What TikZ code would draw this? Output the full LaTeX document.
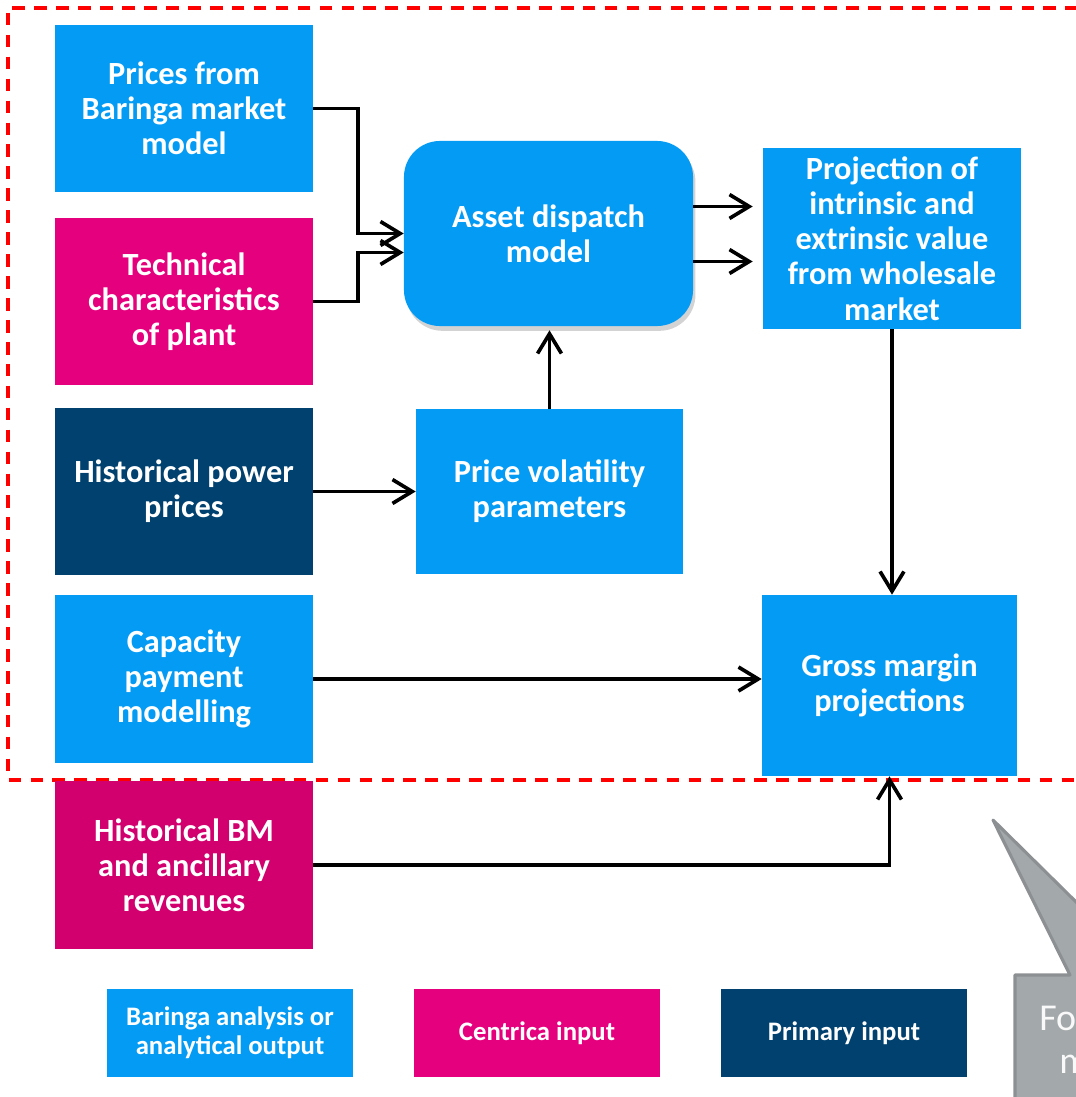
\documentclass[tikz,border=0pt]{standalone}
\usepackage{fontspec}
\setmainfont{Carlito}
\usetikzlibrary{arrows.meta,positioning,shadows}
\definecolor{baringablue}{HTML}{049BF5}
\definecolor{centricapink}{HTML}{E5007D}
\definecolor{bmpink}{HTML}{D1006E}
\definecolor{primarynavy}{HTML}{00416F}
\definecolor{calloutgray}{HTML}{A3A8AB}
\definecolor{calloutedge}{HTML}{8D9093}
\definecolor{frame}{HTML}{FF0000}
\begin{document}
\begin{tikzpicture}[x=0.025cm, y=-0.025cm,
    box/.style={rectangle, fill=#1, text=white, align=center, inner sep=0pt,
        font=\bfseries\fontsize{23}{25}\selectfont,
        minimum width=6.45cm, minimum height=4.175cm},
    keybox/.style={box=#1, font=\bfseries\fontsize{19}{20.6}\selectfont,
        minimum width=6.15cm, minimum height=2.2cm},
    flow/.style={-{Straight Barb[length=14pt,width=17pt,line width=2.6pt]}, line width=2.6pt}]
    \useasboundingbox (0,0) rectangle (1076,1097);
    \clip (0,0) rectangle (1076,1097);

    % Scope boundary
    \draw[frame, line width=2.6pt, dash pattern=on 9pt off 6.6pt] (1100,8) -- (8,8) -- (8,780) -- (1100,780);

    % Inputs on the left
    \node[box=baringablue] (prices) at (184,108.5) {Prices from\\Baringa market\\model};
    \node[box=centricapink] (tech) at (184,301.5) {Technical\\characteristics\\of plant};
    \node[box=primarynavy] (power) at (184,491.5) {Historical power\\prices};
    \node[box=baringablue] (capacity) at (184,679) {Capacity\\payment\\modelling};
    \node[box=bmpink] (bm) at (184,865) {Historical BM\\and ancillary\\revenues};

    % Models and outputs
    \node[box=baringablue, rounded corners=0.9cm, minimum width=7.225cm, minimum height=4.625cm,
        drop shadow={shadow xshift=0.06cm, shadow yshift=-0.12cm, opacity=0.35}] (asset) at (548.5,233.5) {Asset dispatch\\model};
    \node[box=baringablue, minimum height=4.525cm] (proj) at (892,238.5) {Projection of\\intrinsic and\\extrinsic value\\from wholesale\\market};
    \node[box=baringablue, minimum width=6.675cm, minimum height=4.125cm] (vol) at (549.5,491.5) {Price volatility\\parameters};
    \node[box=baringablue, minimum width=6.375cm, minimum height=4.525cm] (gross) at (889.5,685.5) {Gross margin\\projections};

    % Connectors
    \draw[flow] (prices.east) -- ++(45,0) |- (asset.west);
    \draw[flow] (tech.east) -- ++(45,0) |- ([yshift=-0.475cm]asset.west);
    \draw[flow, shorten >=0.25cm] ([yshift=0.675cm]asset.east) -- ([yshift=0.675cm]asset.east -| proj.west);
    \draw[flow, shorten >=0.25cm] ([yshift=-0.7cm]asset.east) -- ([yshift=-0.7cm]asset.east -| proj.west);
    \draw[flow, shorten >=0.1cm] (vol.north) -- (vol.north |- asset.south);
    \draw[flow] (power.east) -- (power.east -| vol.west);
    \draw[flow] (proj.south) -- (proj.south |- gross.north);
    \draw[flow] (capacity.east) -- (capacity.east -| gross.west);
    \draw[flow] (bm.east) -| (gross.south);

    % Key
    \node[keybox=baringablue] (keyblue) at (230,1033) {Baringa analysis or\\analytical output};
    \node[keybox=centricapink] (keypink) at (537,1033) {Centrica input};
    \node[keybox=primarynavy] (keynavy) at (844,1033) {Primary input};

    % Callout, cut by the page edge
    \draw[fill=calloutgray, draw=calloutedge, line width=2.2pt, line join=round]
        (1015,1120) -- (1015,975) -- (1070,975) -- (993,820) -- (1140,965) -- (1140,1120) -- cycle;
    \node[anchor=base west, text=white!95!gray, font=\fontsize{27}{32}\selectfont, inner sep=0pt] (callout1) at (1039,1030) {Fo};
    \node[anchor=base west, text=white!95!gray, font=\fontsize{27}{32}\selectfont, inner sep=0pt] (callout2) at (1059,1073) {m};
\end{tikzpicture}
\end{document}
